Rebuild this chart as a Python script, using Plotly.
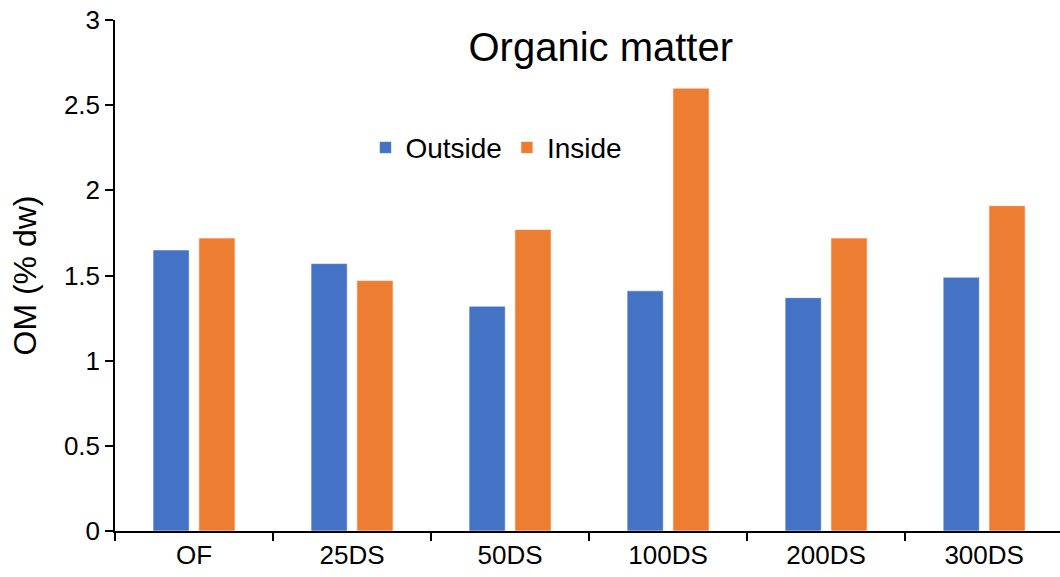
import plotly.graph_objects as go

# data
sites = ["OF", "25DS", "50DS", "100DS", "200DS", "300DS"]
outside = [1.65, 1.57, 1.32, 1.41, 1.37, 1.49]
inside = [1.72, 1.47, 1.77, 2.60, 1.72, 1.91]
y_ticks = [0, 0.5, 1, 1.5, 2, 2.5, 3]
y_tick_text = ["0", "0.5", "1", "1.5", "2", "2.5", "3"]

FONT = "Liberation Sans, Arial, sans-serif"

fig = go.Figure()

fig.add_trace(go.Bar(
    x=sites, y=outside, name="Outside",
    marker_color="#4472C4",
    marker_line=dict(color="rgba(255,255,255,0.6)", width=1),
))
fig.add_trace(go.Bar(
    x=sites, y=inside, name="Inside",
    marker_color="#ED7D31",
    marker_line=dict(color="rgba(255,255,255,0.6)", width=1),
))

fig.update_layout(
    width=1060, height=577,
    barmode="group",
    bargap=0.42,
    bargroupgap=0.21,
    plot_bgcolor="white",
    paper_bgcolor="white",
    font=dict(family=FONT, color="black", size=26),
    margin=dict(l=115, r=0, t=20, b=46),
    title=dict(
        text="Organic matter",
        font=dict(family=FONT, size=40, color="black"),
        xref="paper", yref="paper",
        x=0.514, xanchor="center",
        y=0.948, yanchor="middle",
    ),
    legend=dict(
        orientation="h",
        x=0.265, xanchor="left",
        y=0.75, yanchor="middle",
        font=dict(family=FONT, size=28, color="black"),
        bgcolor="rgba(0,0,0,0)",
        traceorder="normal",
    ),
)

fig.update_xaxes(
    range=[-0.5, 5.48],
    showline=True, linecolor="black", linewidth=1.5,
    ticks="outside", tickson="boundaries", ticklen=8, tickwidth=1.5, tickcolor="black",
    showgrid=False, zeroline=False,
    tickfont=dict(family=FONT, size=26, color="black"),
)
fig.update_yaxes(
    range=[0, 3],
    tickvals=y_ticks, ticktext=y_tick_text,
    showline=True, linecolor="black", linewidth=1.5,
    ticks="outside", ticklen=8, tickwidth=1.5, tickcolor="black",
    showgrid=False, zeroline=False,
    tickfont=dict(family=FONT, size=26, color="black"),
    title=dict(text="OM (% dw)", font=dict(family=FONT, size=32, color="black"), standoff=18),
)

# drop the default 8px body margin so the figure sits at the page corner
fig.write_html(
    "out.html",
    config={"displayModeBar": False},
    post_script="document.body.style.margin='0';",
)
